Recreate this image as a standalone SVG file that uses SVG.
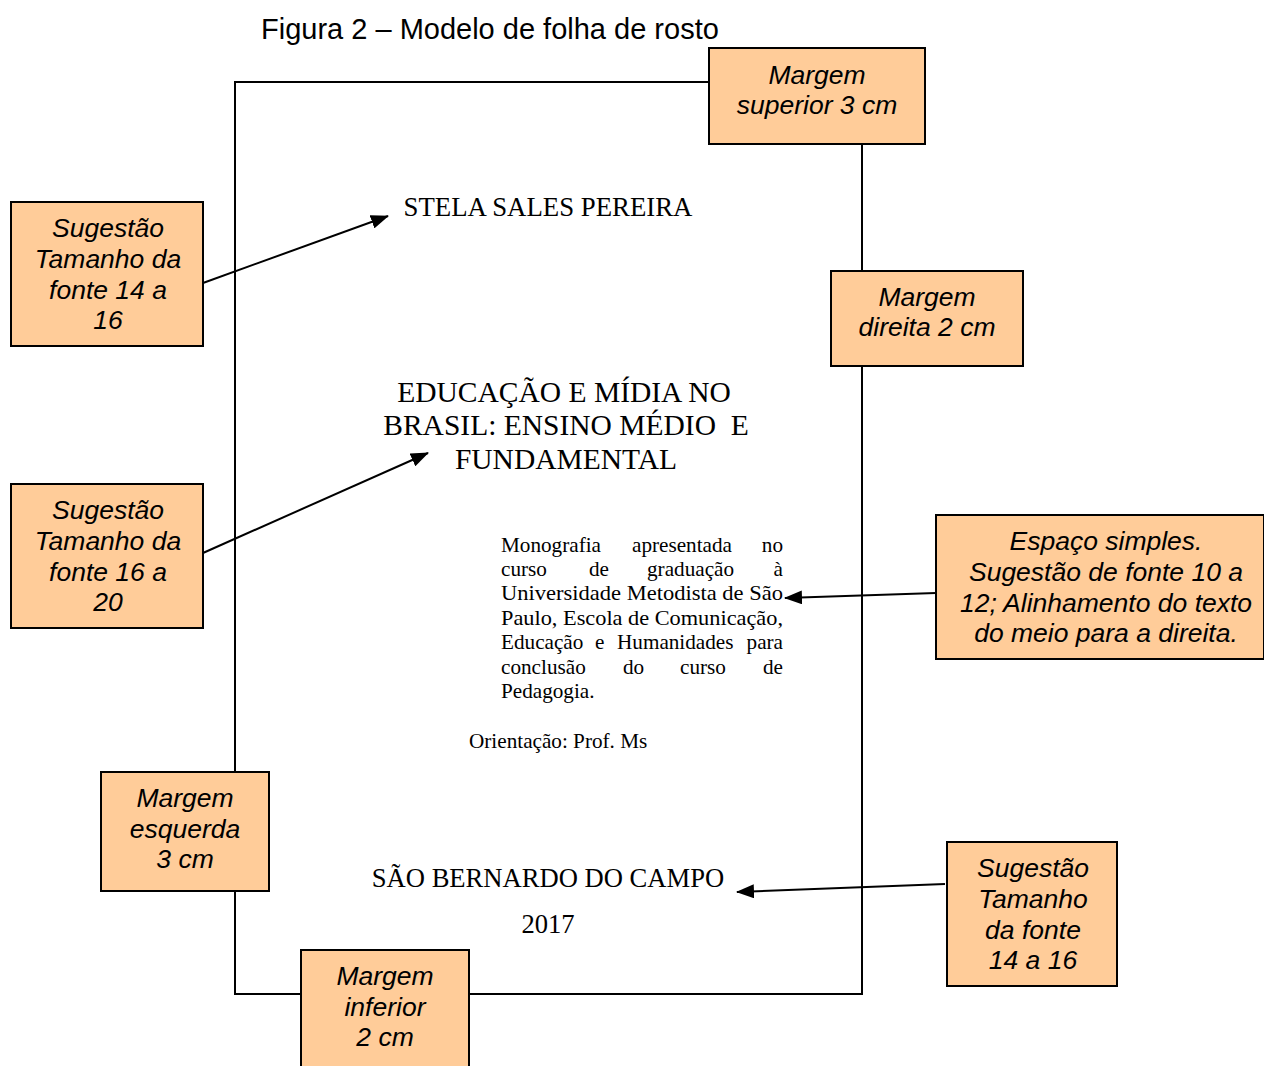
<svg xmlns="http://www.w3.org/2000/svg" width="1264" height="1066" viewBox="0 0 1264 1066">
<style>
.box{fill:#FFCC99;stroke:#000;stroke-width:2}
.bt{font-family:"Liberation Sans",Arial,sans-serif;font-style:italic;font-size:26.5px;fill:#000;text-anchor:middle}
.serif{font-family:"Liberation Serif","Times New Roman",serif;fill:#000}
.ln{fill:none;stroke:#000;stroke-width:2}
.ar{fill:none;stroke:#000;stroke-width:2;marker-end:url(#ah)}
</style>
<defs>
<marker id="ah" viewBox="0 0 18 14" refX="17" refY="7" markerWidth="18" markerHeight="14" markerUnits="userSpaceOnUse" orient="auto">
<path d="M0,0 L18,7 L0,14 z" fill="#000"/>
</marker>
</defs>
<rect width="1264" height="1066" fill="#fff"/>
<text x="261" y="39" font-family="Liberation Sans,Arial,sans-serif" font-size="29" fill="#000">Figura 2 – Modelo de folha de rosto</text>

<g id="connectors">
<rect x="235" y="82" width="627" height="912" class="ln"/>
<line x1="203" y1="283" x2="388" y2="216" class="ar"/>
<line x1="203" y1="553" x2="428" y2="453" class="ar"/>
<line x1="936" y1="593" x2="785" y2="598" class="ar"/>
<line x1="945" y1="884" x2="737" y2="892" class="ar"/>
</g>

<g id="page-text" class="serif">
<text x="548" y="216" font-size="26.8" text-anchor="middle">STELA SALES PEREIRA</text>
<text x="564" y="402" font-size="29.5" text-anchor="middle">EDUCAÇÃO E MÍDIA NO</text>
<text x="566" y="435" font-size="29.5" text-anchor="middle" xml:space="preserve">BRASIL: ENSINO MÉDIO  E</text>
<text x="566" y="469" font-size="29.5" text-anchor="middle">FUNDAMENTAL</text>
<g font-size="21.2">
<text x="501" y="552">Monografia</text><text x="632" y="552">apresentada</text><text x="783" y="552" text-anchor="end">no</text>
<text x="501" y="576">curso</text><text x="589" y="576">de</text><text x="647" y="576">graduação</text><text x="783" y="576" text-anchor="end">à</text>
<text x="501" y="600" textLength="282" lengthAdjust="spacingAndGlyphs">Universidade Metodista de São</text>
<text x="501" y="625" textLength="282" lengthAdjust="spacingAndGlyphs">Paulo, Escola de Comunicação,</text>
<text x="501" y="649">Educação</text><text x="595" y="649">e</text><text x="617" y="649">Humanidades</text><text x="783" y="649" text-anchor="end">para</text>
<text x="501" y="674">conclusão</text><text x="623" y="674">do</text><text x="680" y="674">curso</text><text x="783" y="674" text-anchor="end">de</text>
<text x="501" y="698">Pedagogia.</text>
</g>
<text x="469" y="748" font-size="21.2">Orientação: Prof. Ms</text>
<text x="548" y="887" font-size="26.6" text-anchor="middle">SÃO BERNARDO DO CAMPO</text>
<text x="548" y="933" font-size="26.6" text-anchor="middle">2017</text>
</g>

<g id="margem-superior">
<rect x="709" y="48" width="216" height="96" class="box"/>
<text class="bt" x="817" y="84">Margem</text>
<text class="bt" x="817" y="114">superior 3 cm</text>
</g>
<g id="margem-direita">
<rect x="831" y="271" width="192" height="95" class="box"/>
<text class="bt" x="927" y="306">Margem</text>
<text class="bt" x="927" y="336">direita 2 cm</text>
</g>
<g id="sugestao-14-16">
<rect x="11" y="202" width="192" height="144" class="box"/>
<text class="bt" x="108" y="237">Sugestão</text>
<text class="bt" x="108" y="268">Tamanho da</text>
<text class="bt" x="108" y="299">fonte 14 a</text>
<text class="bt" x="108" y="329">16</text>
</g>
<g id="sugestao-16-20">
<rect x="11" y="484" width="192" height="144" class="box"/>
<text class="bt" x="108" y="519">Sugestão</text>
<text class="bt" x="108" y="550">Tamanho da</text>
<text class="bt" x="108" y="581">fonte 16 a</text>
<text class="bt" x="108" y="611">20</text>
</g>
<g id="espaco-simples">
<rect x="936" y="515" width="328" height="144" class="box"/>
<text class="bt" x="1106" y="550">Espaço simples.</text>
<text class="bt" x="1106" y="581">Sugestão de fonte 10 a</text>
<text class="bt" x="1106" y="612">12; Alinhamento do texto</text>
<text class="bt" x="1106" y="642">do meio para a direita.</text>
</g>
<g id="margem-esquerda">
<rect x="101" y="772" width="168" height="119" class="box"/>
<text class="bt" x="185" y="807">Margem</text>
<text class="bt" x="185" y="838">esquerda</text>
<text class="bt" x="185" y="868">3 cm</text>
</g>
<g id="margem-inferior">
<rect x="301" y="950" width="168" height="120" class="box"/>
<text class="bt" x="385" y="985">Margem</text>
<text class="bt" x="385" y="1016">inferior</text>
<text class="bt" x="385" y="1046">2 cm</text>
</g>
<g id="sugestao-14-16-b">
<rect x="947" y="842" width="170" height="144" class="box"/>
<text class="bt" x="1033" y="877">Sugestão</text>
<text class="bt" x="1033" y="908">Tamanho</text>
<text class="bt" x="1033" y="939">da fonte</text>
<text class="bt" x="1033" y="969">14 a 16</text>
</g>
</svg>
